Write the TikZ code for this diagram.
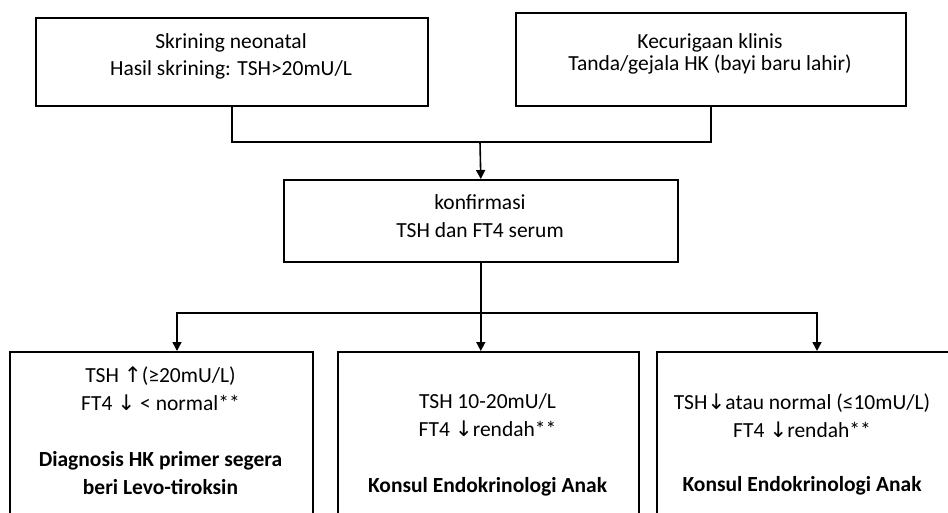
\documentclass[tikz,border=0pt]{standalone}
\usepackage{fontspec}
\setmainfont{Carlito}
\newfontfamily\arrfont{DejaVu Sans}
\usetikzlibrary{arrows.meta}
\begin{document}
\begin{tikzpicture}[x=1pt,y=-1pt,
  box/.style={draw, line width=1.6pt, inner sep=0pt, anchor=north west},
  txt/.style={align=center, inner sep=0pt, font=\fontsize{21.5}{28}\selectfont},
  conn/.style={line width=1.6pt},
  arr/.style={line width=1.6pt, -{Triangle[width=9pt,length=9pt]}}]
\useasboundingbox (0,0) rectangle (948,513);
\clip (0,0) rectangle (948,513);
% boxes
\node[box, minimum width=392pt, minimum height=88pt] (b1) at (35,17) {};
\node[box, minimum width=390pt, minimum height=93pt] (b2) at (515,12) {};
\node[box, minimum width=394pt, minimum height=82pt] (b3) at (283,179) {};
\node[box, minimum width=303pt, minimum height=190pt] (c1) at (9,351) {};
\node[box, minimum width=301pt, minimum height=190pt] (c2) at (337,351) {};
\node[box, minimum width=300pt, minimum height=190pt] (c3) at (656,351) {};
% texts
\node[txt, font=\fontsize{21.5}{27}\selectfont] (t1) at (231,56.5) {Skrining neonatal\\Hasil skrining: TSH>20mU/L};
\node[txt, font=\fontsize{21.5}{22}\selectfont] (t2) at (710,54) {Kecurigaan klinis\\Tanda/gejala HK (bayi baru lahir)};
\node[txt] (t3) at (480,216) {konfirmasi\\TSH dan FT4 serum};
\node[txt] (t4) at (160.5,431) {TSH {\arrfont ↑}(≥20mU/L)\\FT4 {\arrfont ↓} < normal**\\[28pt]\textbf{Diagnosis HK primer segera}\\\textbf{beri Levo-tiroksin}};
\node[txt] (t5) at (487.5,445) {TSH 10-20mU/L\\FT4 {\arrfont ↓}rendah**\\[28pt]\textbf{Konsul Endokrinologi Anak}};
\node[txt] (t6) at (802,444) {TSH{\arrfont ↓}atau normal (≤10mU/L)\\FT4 {\arrfont ↓}rendah**\\[26pt]\textbf{Konsul Endokrinologi Anak}};
% connectors
\coordinate (j1) at (480,142);
\coordinate (j2) at (480,313);
\coordinate (a1) at (177,351);
\coordinate (a3) at (817,351);
\draw[conn] (b1.south) |- (j1) -| (b2.south);
\draw[arr] (j1) -- (b3.north);
\draw[arr] (b3.south) -- (b3.south |- c2.north);
\draw[arr] (j2) -| (a1);
\draw[arr] (j2) -| (a3);
\end{tikzpicture}
\end{document}
